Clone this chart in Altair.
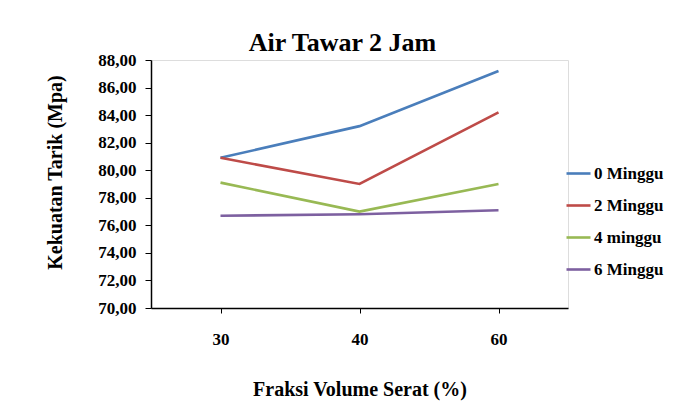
import altair as alt
import pandas as pd

fraksi = ["30", "40", "60"]
series_names = ["0 Minggu", "2 Minggu", "4 minggu", "6 Minggu"]
minggu0 = [80.9, 83.2, 87.2]
minggu2 = [80.9, 79.0, 84.2]
minggu4 = [79.1, 77.0, 79.0]
minggu6 = [76.7, 76.8, 77.1]
colors = ["#4A7EBB", "#BE4B48", "#98B954", "#7D60A0"]

rows = []
for name, vals in zip(series_names, [minggu0, minggu2, minggu4, minggu6]):
    for f, v in zip(fraksi, vals):
        rows.append({"Fraksi": f, "Nilai": v, "Seri": name})
df = pd.DataFrame(rows)

FONT = "serif"

chart = alt.Chart(df).mark_line(strokeWidth=2.6).encode(
    x=alt.X("Fraksi:O", sort=fraksi,
            scale=alt.Scale(type="point", padding=0.5),
            axis=alt.Axis(title="Fraksi Volume Serat (%)", labelAngle=0,
                          labelFont=FONT, labelFontSize=17, labelFontWeight="bold",
                          labelPadding=18, tickSize=5, tickColor="black",
                          domainColor="black", domainWidth=1.5,
                          titleFont=FONT, titleFontSize=20, titleFontWeight="bold",
                          titleY=87, titleBaseline="alphabetic")),
    y=alt.Y("Nilai:Q",
            scale=alt.Scale(domain=[70, 88], nice=False, zero=False),
            axis=alt.Axis(title="Kekuatan Tarik (Mpa)", values=list(range(70, 89, 2)),
                          labelExpr="replace(format(datum.value, '.2f'), '.', ',')",
                          labelFont=FONT, labelFontSize=17, labelFontWeight="bold",
                          labelPadding=9, tickSize=6, tickColor="black",
                          domainColor="black", domainWidth=1.5, grid=False,
                          titleFont=FONT, titleFontSize=20, titleFontWeight="bold",
                          titleAngle=270, titleX=-96, titleY=112,
                          titleAlign="center", titleBaseline="middle")),
    color=alt.Color("Seri:N", sort=series_names,
                    scale=alt.Scale(domain=series_names, range=colors),
                    legend=alt.Legend(title=None, orient="none", legendX=414, legendY=100,
                                      symbolType="stroke", symbolSize=576,
                                      symbolStrokeWidth=2.6, rowPadding=10,
                                      labelFont=FONT, labelFontSize=17,
                                      labelFontWeight="bold", labelOffset=2,
                                      labelColor="black")),
).properties(
    width=417, height=248,
    padding={"left": 143, "top": 52, "right": 102, "bottom": 100},
    autosize="none",
    title=alt.TitleParams("Air Tawar 2 Jam", font=FONT, fontSize=26,
                          fontWeight="bold", color="black", dx=-17, dy=15, offset=10),
).configure_view(stroke=None).configure(background="white")

chart.save("out.html", embed_options={"renderer": "svg", "actions": False})
